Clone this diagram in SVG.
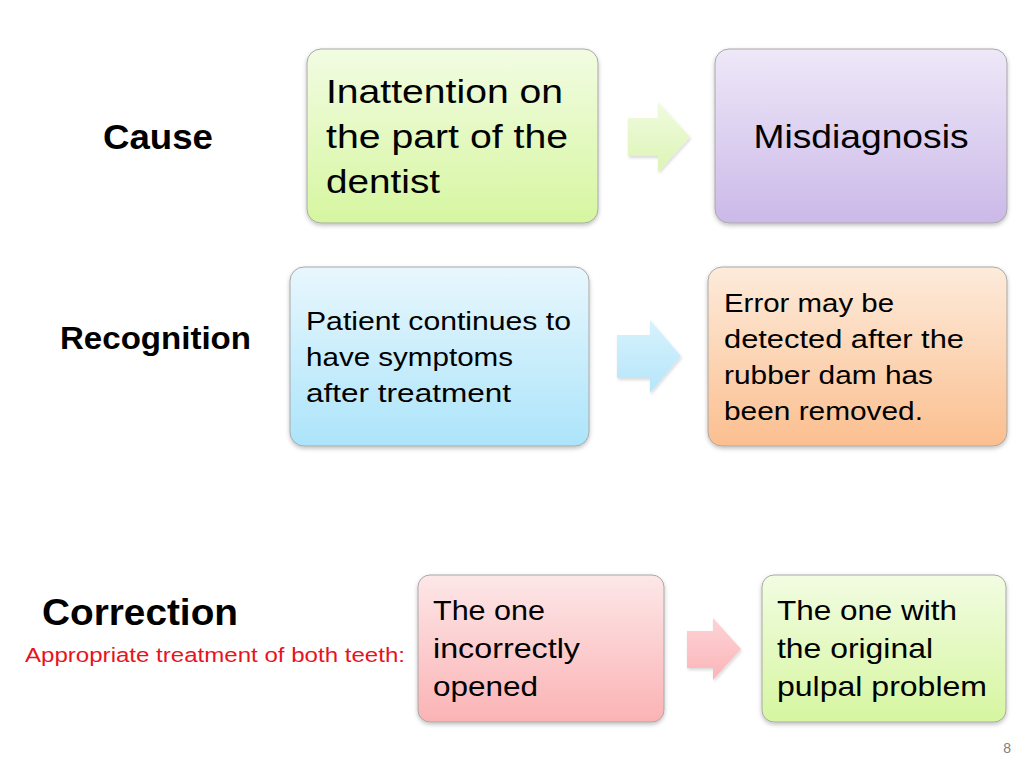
<svg xmlns="http://www.w3.org/2000/svg" width="1024" height="768" viewBox="0 0 1024 768">
<defs>
<linearGradient id="gGreen" x1="0" y1="0" x2="0" y2="1"><stop offset="0" stop-color="#f2fce2"/><stop offset="1" stop-color="#d6f6a0"/></linearGradient>
<linearGradient id="gPurple" x1="0" y1="0" x2="0" y2="1"><stop offset="0" stop-color="#eee8f8"/><stop offset="1" stop-color="#cbb9e8"/></linearGradient>
<linearGradient id="gBlue" x1="0" y1="0" x2="0" y2="1"><stop offset="0" stop-color="#e8f7fd"/><stop offset="1" stop-color="#ace4fa"/></linearGradient>
<linearGradient id="gPeach" x1="0" y1="0" x2="0" y2="1"><stop offset="0" stop-color="#fdebdb"/><stop offset="1" stop-color="#fbbf8f"/></linearGradient>
<linearGradient id="gPink" x1="0" y1="0" x2="0" y2="1"><stop offset="0" stop-color="#fde7e8"/><stop offset="1" stop-color="#fbb3b5"/></linearGradient>
<linearGradient id="aGreen" x1="0" y1="0" x2="0" y2="1"><stop offset="0" stop-color="#f0fbe0"/><stop offset="1" stop-color="#dcf5b4"/></linearGradient>
<linearGradient id="aBlue" x1="0" y1="0" x2="0" y2="1"><stop offset="0" stop-color="#d8f2fd"/><stop offset="1" stop-color="#b4e6fa"/></linearGradient>
<linearGradient id="aPink" x1="0" y1="0" x2="0" y2="1"><stop offset="0" stop-color="#fdd3d6"/><stop offset="1" stop-color="#fbb5b8"/></linearGradient>
<filter id="sh" x="-10%" y="-10%" width="120%" height="130%"><feDropShadow dx="0" dy="2" stdDeviation="2" flood-color="#000" flood-opacity="0.25"/></filter>
<filter id="ash" x="-20%" y="-20%" width="140%" height="140%"><feDropShadow dx="1" dy="2" stdDeviation="1.5" flood-color="#000" flood-opacity="0.15"/></filter>
</defs>
<style>
.box{stroke:#a8a8a8;stroke-width:1;filter:url(#sh)}
.t{font-family:"Liberation Sans",Arial,sans-serif;fill:#000}
.h{font-family:"Liberation Sans",Arial,sans-serif;font-weight:bold;fill:#000}
.arrow{filter:url(#ash)}
</style>
<rect width="1024" height="768" fill="#fff"/>

<g id="labels">
<text class="h" x="103" y="149" font-size="35" textLength="110" lengthAdjust="spacingAndGlyphs">Cause</text>
<text class="h" x="60" y="349" font-size="31" textLength="191" lengthAdjust="spacingAndGlyphs">Recognition</text>
<text class="h" x="42" y="625" font-size="36" textLength="196" lengthAdjust="spacingAndGlyphs">Correction</text>
<text class="t" x="25" y="662" font-size="20.5" style="fill:#e8141c" textLength="380" lengthAdjust="spacingAndGlyphs">Appropriate treatment of both teeth:</text>
</g>

<g id="node-inattention">
<rect class="box" x="307" y="49" width="291" height="174" rx="14" fill="url(#gGreen)"/>
<text class="t" font-size="33"><tspan x="326" y="103" textLength="237" lengthAdjust="spacingAndGlyphs">Inattention on</tspan><tspan x="326" y="148" textLength="242" lengthAdjust="spacingAndGlyphs">the part of the</tspan><tspan x="326" y="193" textLength="114" lengthAdjust="spacingAndGlyphs">dentist</tspan></text>
</g>

<g id="node-misdiagnosis">
<rect class="box" x="715" y="49" width="292" height="174" rx="14" fill="url(#gPurple)"/>
<text class="t" x="861" y="148" font-size="33" text-anchor="middle" textLength="215" lengthAdjust="spacingAndGlyphs">Misdiagnosis</text>
</g>

<g id="node-patient">
<rect class="box" x="290" y="267" width="299" height="179" rx="14" fill="url(#gBlue)"/>
<text class="t" font-size="26"><tspan x="306" y="330" textLength="265" lengthAdjust="spacingAndGlyphs">Patient continues to</tspan><tspan x="306" y="366" textLength="207" lengthAdjust="spacingAndGlyphs">have symptoms</tspan><tspan x="306" y="402" textLength="205" lengthAdjust="spacingAndGlyphs">after treatment</tspan></text>
</g>

<g id="node-error">
<rect class="box" x="708" y="267" width="299" height="179" rx="14" fill="url(#gPeach)"/>
<text class="t" font-size="26"><tspan x="724" y="312" textLength="170" lengthAdjust="spacingAndGlyphs">Error may be</tspan><tspan x="724" y="348" textLength="240" lengthAdjust="spacingAndGlyphs">detected after the</tspan><tspan x="724" y="384" textLength="209" lengthAdjust="spacingAndGlyphs">rubber dam has</tspan><tspan x="724" y="420" textLength="199" lengthAdjust="spacingAndGlyphs">been removed.</tspan></text>
</g>

<g id="node-incorrect">
<rect class="box" x="418" y="575" width="246" height="147" rx="12" fill="url(#gPink)"/>
<text class="t" font-size="28"><tspan x="433" y="620" textLength="112" lengthAdjust="spacingAndGlyphs">The one</tspan><tspan x="433" y="658" textLength="147" lengthAdjust="spacingAndGlyphs">incorrectly</tspan><tspan x="433" y="696" textLength="105" lengthAdjust="spacingAndGlyphs">opened</tspan></text>
</g>

<g id="node-original">
<rect class="box" x="762" y="575" width="244" height="147" rx="12" fill="url(#gGreen)"/>
<text class="t" font-size="28"><tspan x="777" y="620" textLength="180" lengthAdjust="spacingAndGlyphs">The one with</tspan><tspan x="777" y="658" textLength="156" lengthAdjust="spacingAndGlyphs">the original</tspan><tspan x="777" y="696" textLength="210" lengthAdjust="spacingAndGlyphs">pulpal problem</tspan></text>
</g>

<g id="connectors">
<polygon class="arrow" points="628,118 658,118 658,102 690,137 658,172 658,156 628,156" fill="url(#aGreen)"/>
<polygon class="arrow" points="617,335 650,335 650,320 681,356 650,393 650,378 617,378" fill="url(#aBlue)"/>
<polygon class="arrow" points="687,631 713,631 713,618 741,649 713,680 713,668 687,668" fill="url(#aPink)"/>
</g>

<text class="t" x="1011" y="753" font-size="14" text-anchor="end" style="fill:#808080">8</text>
</svg>
